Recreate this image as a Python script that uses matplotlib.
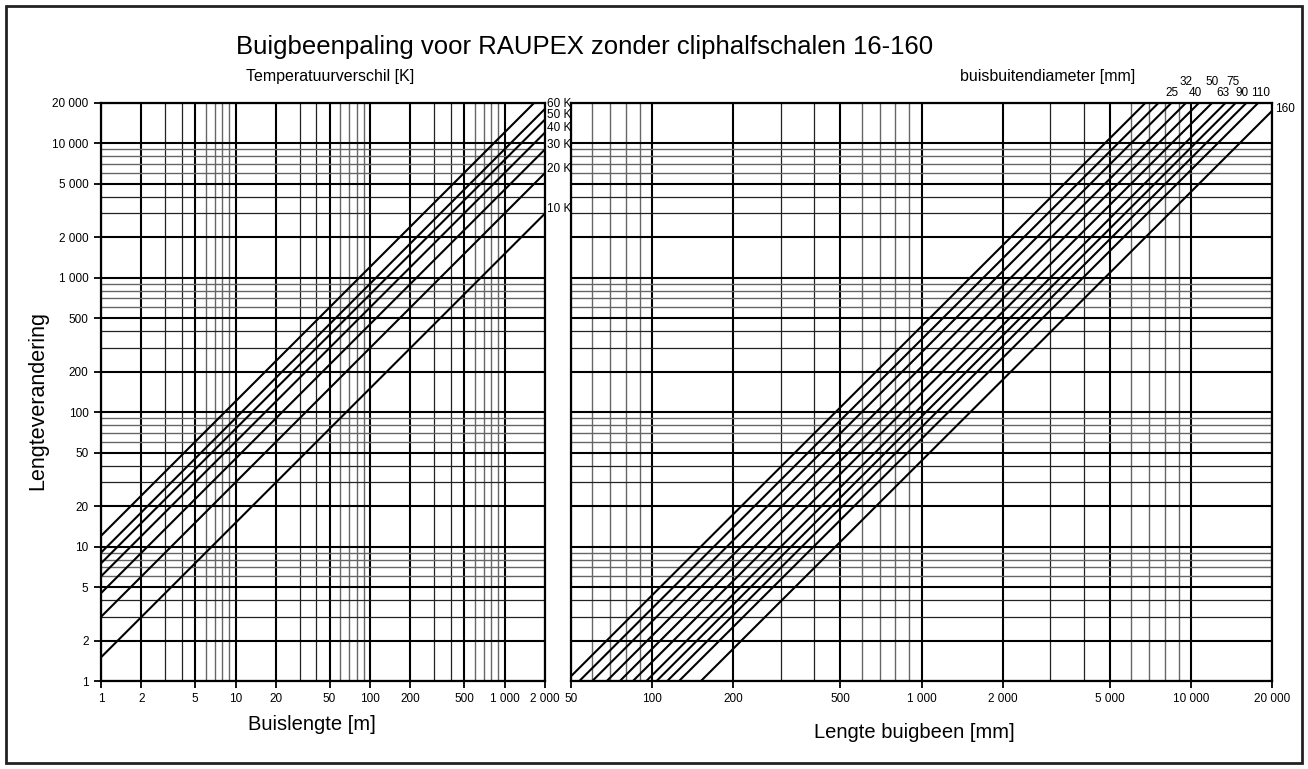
import numpy as np
import matplotlib.pyplot as plt
from matplotlib.patches import Rectangle
from matplotlib.ticker import FixedLocator, NullLocator
from matplotlib.transforms import offset_copy


plt.rcParams['font.family'] = ['Liberation Sans', 'DejaVu Sans']

# Left panel: length change [mm] for 1 m pipe, per temperature difference
temp_labels = ["10 K", "20 K", "30 K", "40 K", "50 K", "60 K", ""]
temp_dl_at_1m = [1.5, 3.0, 4.5, 6.0, 7.5, 9.0, 12.0]

# Right panel: bend leg length [mm] at 1 mm length change, per pipe diameter
diameters = [16, 20, 25, 32, 40, 50, 63, 75, 90, 110, 160]
bend_at_1mm = [48, 53.7, 60, 67.9, 75.9, 84.9, 95.2, 103.9, 113.8, 125.9, 151.8]
diam_labels = ["", "", "25", "32", "40", "50", "63", "75", "90", "110", "160"]
diam_upper_row = [False, True, False, True, False, True, False, True, False, False, False]
diam_label_shift = [0, 0, 0, 0, -4, 0, -3, -3, -5, 2, 0]  # px, to keep labels apart

x_left_ticks = [1, 2, 5, 10, 20, 50, 100, 200, 500, 1000, 2000]
x_right_ticks = [50, 100, 200, 500, 1000, 2000, 5000, 10000, 20000]
y_ticks = [1, 2, 5, 10, 20, 50, 100, 200, 500, 1000, 2000, 5000, 10000, 20000]

W, H = 1308, 769


def fmt(v):
    return f"{v:,}".replace(",", " ")


def draw_grid(ax, lo, hi, vertical):
    """Log grid: 1-2-5 thick, 3-4 thin black, 6-9 thin grey."""
    for e in range(-1, 6):
        for m in range(1, 10):
            v = m * 10 ** e
            if v < lo or v > hi:
                continue
            if m in (1, 2, 5):
                kw = dict(color="black", lw=1.5)
            elif m in (3, 4):
                kw = dict(color="#222222", lw=0.9)
            else:
                kw = dict(color="#666666", lw=1.0)
            if vertical:
                ax.axvline(v, zorder=1, **kw)
            else:
                ax.axhline(v, zorder=1, **kw)


def style_axis(ax, xticks, xlim, show_y):
    ax.set_xscale("log")
    ax.set_yscale("log")
    ax.set_xlim(*xlim)
    ax.set_ylim(1, 20000)
    draw_grid(ax, xlim[0], xlim[1], True)
    draw_grid(ax, 1, 20000, False)
    ax.xaxis.set_major_locator(FixedLocator(xticks))
    ax.xaxis.set_minor_locator(NullLocator())
    ax.set_xticklabels([fmt(v) for v in xticks])
    ax.yaxis.set_major_locator(FixedLocator(y_ticks))
    ax.yaxis.set_minor_locator(NullLocator())
    if show_y:
        ax.set_yticklabels([fmt(v) for v in y_ticks])
    else:
        ax.tick_params(axis="y", left=False, labelleft=False)
    ax.tick_params(direction="out", length=5, width=1.3, labelsize=8.5, pad=4)
    for sp in ax.spines.values():
        sp.set_linewidth(1.6)
        sp.set_zorder(5)


fig = plt.figure(figsize=(W / 100, H / 100), dpi=100)

top = 1 - 102.7 / H
bottom = 1 - 681 / H
ax_l = fig.add_axes([101 / W, bottom, (545 - 101) / W, top - bottom])
ax_r = fig.add_axes([571 / W, bottom, (1272 - 571) / W, top - bottom])

style_axis(ax_l, x_left_ticks, (1, 2000), True)
style_axis(ax_r, x_right_ticks, (50, 20000), False)

# Temperature difference lines (slope 1)
for a, lab in zip(temp_dl_at_1m, temp_labels):
    xs = np.array([1, 2000])
    ax_l.plot(xs, a * xs, color="black", lw=1.5, zorder=3)
    if lab:
        ax_l.text(2000 * 1.04, a * 2000 * 1.08, lab, fontsize=8.5,
                  ha="left", va="center", clip_on=False)

# Pipe diameter lines (slope 2)
for b, lab, upper, shift in zip(bend_at_1mm, diam_labels, diam_upper_row, diam_label_shift):
    xs = np.array([50, 20000])
    ax_r.plot(xs, (xs / b) ** 2, color="black", lw=1.5, zorder=3)
    if not lab:
        continue
    x_exit = b * np.sqrt(20000)
    if x_exit <= 20000:
        tr = offset_copy(ax_r.get_xaxis_transform(), fig=fig, x=shift * 0.72, units="points")
        ax_r.text(x_exit, 1.036 if upper else 1.017, lab, fontsize=8.5,
                  ha="center", va="center", transform=tr, clip_on=False)
    else:
        ax_r.text(20000 * 1.03, (20000 / b) ** 2 * 1.03, lab, fontsize=8.5,
                  ha="left", va="center", clip_on=False)

# Titles and labels
fig.text(585 / W, 1 - 47 / H, "Buigbeenpaling voor RAUPEX zonder cliphalfschalen 16-160",
         fontsize=18.5, ha="center", va="center")
fig.text(330 / W, 1 - 77 / H, "Temperatuurverschil [K]", fontsize=11.5,
         ha="center", va="center")
fig.text(1048 / W, 1 - 77 / H, "buisbuitendiameter [mm]", fontsize=11.5,
         ha="center", va="center")
fig.text(312 / W, 1 - 725 / H, "Buislengte [m]", fontsize=14.5,
         ha="center", va="center")
fig.text(914 / W, 1 - 733 / H, "Lengte buigbeen [mm]", fontsize=14.5,
         ha="center", va="center")
fig.text(38 / W, 1 - 400 / H, "Lengteverandering", fontsize=15.5,
         ha="center", va="center", rotation=90)

# Frame around the whole figure
fig.patches.append(Rectangle((6 / W, 6 / H), (1302 - 6) / W, (763 - 6) / H,
                             transform=fig.transFigure, fill=False,
                             edgecolor="#222222", lw=2))

fig.savefig("out.png", dpi=100)
